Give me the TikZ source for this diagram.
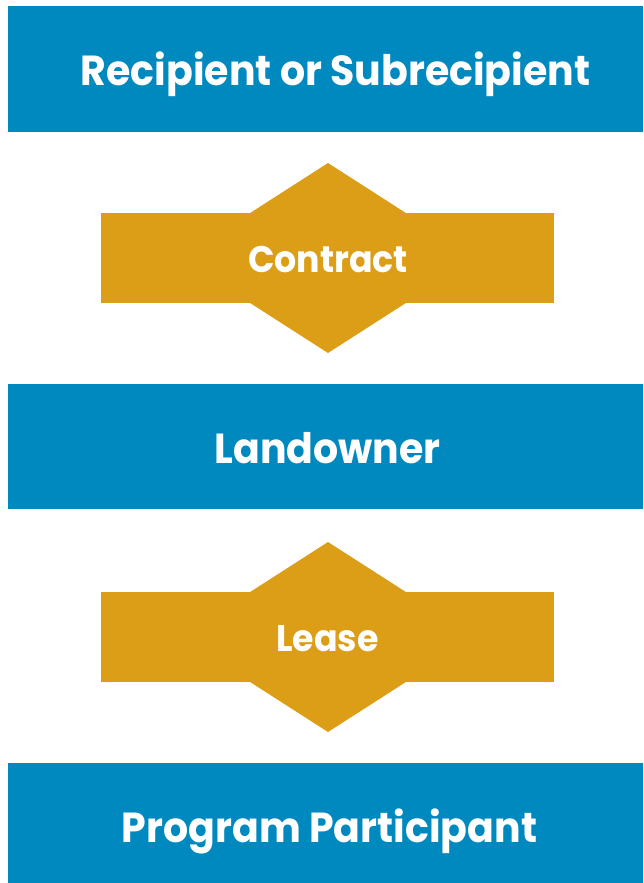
\documentclass[tikz,border=0pt]{standalone}
\usepackage{fontspec}
\setmainfont{Poppins}[FakeStretch=0.94]
\definecolor{partyblue}{RGB}{0,137,191}
\definecolor{dealgold}{RGB}{220,158,23}
\newcommand\dealshape[1]{%
  \fill[dealgold] (101,#1-45) rectangle (554,#1+45);
  \fill[dealgold] (328,#1-95) -- (476,#1) -- (328,#1+95) -- (180,#1) -- cycle;}
\begin{document}
\begin{tikzpicture}[x=1pt,y=-1pt,
    partybox/.style={fill=partyblue},
    bigtext/.style={text=white,anchor=base,inner sep=0pt,font=\bfseries\fontsize{42}{50}\selectfont},
    dealtext/.style={text=white,anchor=base,inner sep=0pt,font=\bfseries\fontsize{37}{44}\selectfont}]
  \useasboundingbox (0,0) rectangle (643,883);
  \fill[partybox] (8,6) rectangle (643,132);
  \fill[partybox] (8,384) rectangle (643,509);
  \fill[partybox] (8,763) rectangle (643,883);
  \dealshape{258}
  \dealshape{637}
  \node[bigtext] (recipient) at (335.5,85) {Recipient or Subrecipient};
  \node[dealtext] (contract) at (328,272) {Contract};
  \node[bigtext] (landowner) at (327.5,463) {Landowner};
  \node[dealtext] (lease) at (327.5,651) {Lease};
  \node[bigtext] (participant) at (329.5,842) {Program Participant};
\end{tikzpicture}
\end{document}
